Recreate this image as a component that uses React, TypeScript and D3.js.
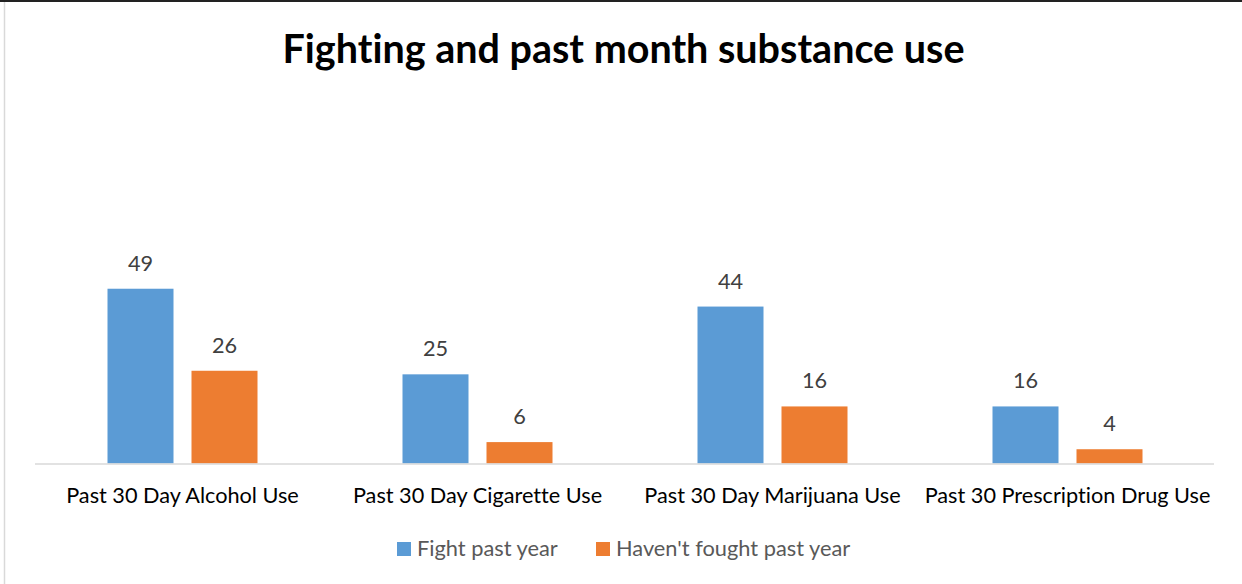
import React from "react";
import * as d3 from "d3";

const categories = [
  "Past 30 Day Alcohol Use",
  "Past 30 Day Cigarette Use",
  "Past 30 Day Marijuana Use",
  "Past 30 Prescription Drug Use",
];
const seriesNames = ["Fight past year", "Haven't fought past year"];
const fightValues = [49, 25, 44, 16];
const notFoughtValues = [26, 6, 16, 4];
const colors = ["#5B9BD5", "#ED7D31"];

const W = 1242;
const H = 584;
const FONT = "Lato, 'Open Sans', sans-serif";

export default function App() {
  const x0 = d3.scaleBand<string>().domain(categories).range([35, 1215]).paddingInner(0).paddingOuter(0);
  const x1 = d3.scaleBand<string>().domain(seriesNames).range([0, 150]).paddingInner(0.2143);
  const y = d3.scaleLinear().domain([0, 60]).range([463.5, 249.5]);
  const series = [fightValues, notFoughtValues];
  const groupOffset = (x0.bandwidth() - 150) / 2;

  return (
    <svg width={W} height={H} style={{ position: "absolute", left: 0, top: 0, fontVariantLigatures: "none" }}>
      <rect x={0} y={0} width={W} height={H} fill="#fff" />
      <line x1={0} x2={W} y1={1} y2={1} stroke="#222" strokeWidth={2} />
      <line x1={4.5} x2={4.5} y1={2} y2={H} stroke="#d9d9d9" strokeWidth={1.5} />
      <text x={623.5} y={63} textAnchor="middle" fontFamily={FONT} fontWeight={700} fontSize={39.5} fill="#000">
        Fighting and past month substance use
      </text>
      {categories.map((c, ci) => (
        <g key={c} transform={`translate(${(x0(c) as number) + groupOffset},0)`}>
          {seriesNames.map((s, si) => {
            const v = series[si][ci];
            const bx = x1(s) as number;
            return (
              <g key={s}>
                <rect x={bx} y={y(v)} width={x1.bandwidth()} height={y(0) - y(v)} fill={colors[si]} />
                <text x={bx + x1.bandwidth() / 2} y={y(v) - 18} textAnchor="middle" fontFamily={FONT} fontSize={21.7} fill="#404040">
                  {v}
                </text>
              </g>
            );
          })}
        </g>
      ))}
      <line x1={35} x2={1214} y1={y(0) + 0.5} y2={y(0) + 0.5} stroke="#d9d9d9" strokeWidth={1.5} />
      {categories.map((c) => (
        <text key={c} x={(x0(c) as number) + x0.bandwidth() / 2} y={503} textAnchor="middle" fontFamily={FONT} fontSize={21.7} fill="#000">
          {c}
        </text>
      ))}
      <g>
        <rect x={397} y={542} width={14} height={14} fill={colors[0]} />
        <text x={417} y={556} fontFamily={FONT} fontSize={21.8} fill="#595959">{seriesNames[0]}</text>
        <rect x={596} y={542} width={14} height={14} fill={colors[1]} />
        <text x={616} y={556} fontFamily={FONT} fontSize={21.8} fill="#595959">{seriesNames[1]}</text>
      </g>
    </svg>
  );
}
